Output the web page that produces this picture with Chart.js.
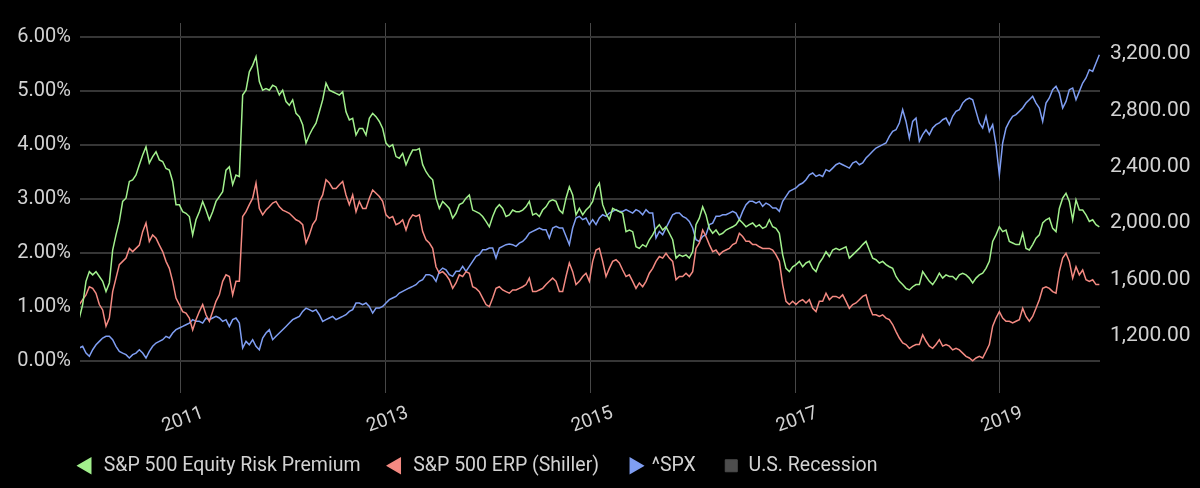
<!DOCTYPE html>
<html>
<head>
<meta charset="utf-8">
<script src="https://cdn.jsdelivr.net/npm/chart.js@4.4.1/dist/chart.umd.min.js"></script>
<style>
  html, body { margin: 0; padding: 0; background: #000; }
  #wrap { width: 1200px; height: 488px; }
</style>
</head>
<body>
<div id="wrap"><canvas id="chart" width="1200" height="488"></canvas></div>
<script>
// sampling grid: one reading roughly every 12 days, Jan 2010 -> Dec 2019
const startYear = 2010.0072;
const stepYears = 0.03256;

const yearTicks = [2011, 2013, 2015, 2017, 2019];
const pctTicks = [0, 1, 2, 3, 4, 5, 6];
const spxTicks = [1200, 1600, 2000, 2400, 2800, 3200];

// S&P 500 Equity Risk Premium (%)
const erp = [
  0.79,1.04,1.47,1.65,1.59,1.65,1.56,1.47,1.28,1.44,
  2.05,2.33,2.58,2.95,3.01,3.32,3.35,3.44,3.63,3.81,
  3.96,3.66,3.78,3.87,3.72,3.69,3.56,3.53,3.32,2.89,
  2.89,2.76,2.73,2.67,2.33,2.61,2.76,2.95,2.79,2.61,
  2.76,2.95,3.04,3.13,3.53,3.59,3.26,3.44,3.41,4.92,
  5.01,5.35,5.47,5.63,5.17,5.01,5.04,5.01,5.10,5.07,
  4.92,5.01,4.80,4.73,4.83,4.58,4.52,4.37,4.03,4.18,
  4.30,4.40,4.61,4.83,5.14,5.01,4.98,
  4.95,4.92,4.98,4.61,4.46,4.49,4.18,4.30,4.30,4.18,
  4.49,4.58,4.52,4.43,4.30,4.03,3.96,4.00,3.78,3.75,
  3.84,3.63,3.78,3.90,3.90,3.93,3.63,3.50,3.41,3.35,
  3.01,2.82,2.95,2.89,2.82,2.64,2.73,2.89,2.92,3.01,
  3.07,2.79,2.76,2.73,2.67,2.58,2.48,2.67,2.82,2.89,
  2.82,2.67,2.70,2.79,2.76,2.76,2.79,2.85,2.95,2.70,
  2.73,2.67,2.79,2.85,2.95,2.98,2.95,2.79,2.73,3.01,
  3.22,3.07,2.70,2.82,2.70,
  2.79,2.85,2.95,3.19,3.29,2.89,2.73,2.61,2.82,2.79,
  2.76,2.73,2.39,2.42,2.39,2.11,2.08,2.15,2.11,2.24,
  2.33,2.45,2.52,2.42,2.48,2.36,2.24,1.90,1.96,1.93,
  1.96,1.90,2.02,2.52,2.64,2.85,2.70,2.45,2.36,2.42,
  2.33,2.36,2.42,2.45,2.48,2.52,2.61,2.55,2.48,2.52,
  2.55,2.48,2.52,2.45,2.48,2.61,2.48,2.45,2.36,1.96,
  1.71,1.65,1.74,1.78,1.84,1.74,1.81,1.84,1.71,1.65,
  1.81,1.90,2.02,1.93,2.05,2.08,2.05,
  2.08,2.11,1.90,1.96,2.02,2.08,2.15,2.21,2.05,1.90,
  1.87,1.81,1.84,1.78,1.74,1.71,1.56,1.47,1.41,1.34,
  1.31,1.37,1.41,1.41,1.65,1.56,1.47,1.41,1.50,1.62,
  1.53,1.59,1.56,1.56,1.50,1.59,1.62,1.59,1.53,1.44,
  1.53,1.59,1.62,1.71,1.84,2.21,2.33,2.48,2.39,2.42,
  2.21,2.18,2.15,2.15,2.36,2.08,2.05,2.15,2.27,2.33,
  2.55,2.61,2.64,2.45,2.39,2.82,3.01,3.10,2.95,2.61,
  2.98,2.79,2.79,2.70,2.58,2.61,2.52,2.48
];

// S&P 500 ERP (Shiller) (%)
const erpShiller = [
  1.04,1.13,1.22,1.37,1.34,1.25,1.04,0.94,0.64,0.79,
  1.28,1.53,1.78,1.84,1.90,2.08,2.02,2.08,2.14,2.39,
  2.55,2.21,2.33,2.27,2.14,2.02,1.84,1.71,1.47,1.16,
  1.04,0.91,0.88,0.79,0.57,0.76,0.91,1.04,0.85,0.73,
  0.91,1.10,1.22,1.47,1.59,1.56,1.22,1.47,1.47,2.67,
  2.76,2.89,3.01,3.29,2.82,2.70,2.79,2.85,2.92,2.95,
  2.85,2.79,2.76,2.73,2.67,2.61,2.58,2.52,2.18,2.33,
  2.52,2.61,2.95,3.07,3.35,3.29,3.19,
  3.19,3.26,3.32,3.07,2.89,3.07,2.76,2.95,2.82,2.82,
  3.01,3.16,3.10,3.04,2.95,2.70,2.64,2.67,2.52,2.55,
  2.61,2.42,2.61,2.70,2.67,2.70,2.39,2.24,2.18,2.08,
  1.74,1.62,1.65,1.59,1.50,1.34,1.44,1.59,1.56,1.65,
  1.62,1.37,1.34,1.28,1.16,1.04,1.00,1.16,1.34,1.37,
  1.31,1.28,1.25,1.31,1.31,1.34,1.37,1.41,1.53,1.28,
  1.28,1.31,1.34,1.41,1.47,1.53,1.47,1.28,1.28,1.56,
  1.81,1.65,1.41,1.47,1.56,
  1.62,1.47,1.84,2.05,2.08,1.84,1.56,1.71,1.84,1.87,
  1.81,1.68,1.56,1.59,1.47,1.34,1.44,1.37,1.47,1.62,
  1.71,1.84,1.93,1.90,1.99,1.90,1.84,1.50,1.56,1.56,
  1.62,1.56,1.65,2.08,2.18,2.42,2.30,2.15,2.02,2.05,
  1.96,2.02,2.05,2.08,2.15,2.18,2.36,2.30,2.21,2.21,
  2.15,2.15,2.11,2.08,2.08,2.08,2.05,1.96,1.84,1.41,
  1.10,1.04,1.10,1.04,1.10,1.13,1.07,1.13,0.97,0.91,
  1.10,1.10,1.25,1.13,1.19,1.19,1.16,
  1.22,1.10,0.97,1.04,1.07,1.13,1.19,1.22,1.00,0.85,
  0.85,0.82,0.85,0.79,0.76,0.67,0.54,0.42,0.33,0.30,
  0.23,0.27,0.30,0.30,0.48,0.36,0.27,0.23,0.30,0.39,
  0.27,0.30,0.27,0.20,0.23,0.20,0.14,0.08,0.05,0.00,
  0.05,0.08,0.05,0.17,0.30,0.64,0.79,0.91,0.79,0.73,
  0.73,0.70,0.73,0.76,0.97,0.82,0.73,0.82,0.97,1.13,
  1.34,1.37,1.34,1.28,1.25,1.65,1.90,1.99,1.84,1.53,
  1.74,1.59,1.68,1.50,1.47,1.50,1.41,1.41
];

// ^SPX close
const spx = [
  1115,1127,1079,1056,1103,1138,1162,1186,1198,1198,
  1174,1127,1091,1079,1068,1044,1068,1079,1103,1079,
  1044,1091,1127,1150,1162,1174,1198,1186,1221,1245,
  1257,1268,1280,1292,1316,1304,1304,1292,1328,1316,
  1328,1339,1328,1304,1316,1268,1316,1328,1292,1115,
  1162,1138,1174,1127,1103,1186,1221,1245,1174,1198,
  1221,1245,1268,1292,1316,1328,1339,1375,1398,1387,
  1375,1387,1351,1304,1316,1328,1339,
  1316,1328,1339,1351,1375,1387,1434,1434,1422,1434,
  1410,1363,1398,1398,1410,1434,1458,1470,1481,1505,
  1517,1529,1541,1552,1564,1588,1599,1635,1635,1623,
  1588,1659,1682,1670,1635,1623,1659,1659,1694,1659,
  1694,1729,1765,1777,1812,1812,1824,1824,1753,1824,
  1836,1848,1852,1848,1836,1859,1871,1895,1930,1942,
  1954,1966,1954,1954,1895,1966,1978,1966,1966,1907,
  1848,1966,2037,2049,2025,
  2037,1990,2025,1990,2037,2060,2049,2072,2084,2096,
  2084,2084,2096,2084,2072,2096,2084,2060,2096,2072,
  2072,1895,1942,1919,1966,2013,2060,2072,2072,2049,
  2037,2013,1966,1883,1871,1907,1919,1990,2001,2049,
  2049,2060,2060,2072,2084,2072,2025,2084,2131,2155,
  2155,2143,2155,2120,2143,2131,2108,2108,2084,2155,
  2190,2226,2238,2250,2273,2285,2309,2344,2356,2332,
  2344,2332,2380,2368,2391,2415,2427,
  2415,2403,2391,2427,2439,2415,2427,2462,2486,2510,
  2533,2545,2557,2569,2616,2651,2663,2711,2805,2722,
  2604,2722,2746,2581,2628,2663,2628,2675,2699,2711,
  2734,2746,2699,2758,2793,2805,2852,2876,2888,2876,
  2793,2711,2675,2758,2651,2699,2557,2344,2569,2675,
  2722,2758,2770,2793,2817,2852,2876,2900,2852,2817,
  2722,2852,2888,2947,2971,2923,2817,2864,2947,2959,
  2876,2935,2994,3030,3089,3077,3136,3195
];

const dates = spx.map((_, i) => startYear + i * stepYears);
const toPoints = (values) => values.map((v, i) => ({ x: dates[i], y: v }));

const GREEN = '#a2f08d';
const RED = '#f48a82';
const BLUE = '#7f9ef2';
const GREY = '#4d4d4d';
const TEXT = '#d2d2d2';
const FONT = 'Roboto';

const lineSet = (label, values, color, axis, rotation) => ({
  label,
  data: toPoints(values),
  yAxisID: axis,
  borderColor: color,
  backgroundColor: color,
  borderWidth: 1.5,
  pointRadius: 0,
  pointStyle: 'triangle',
  pointRotation: rotation,
  tension: 0,
});

// the legend starts under the plot, not at the canvas edge
const legendPlacement = {
  id: 'legendPlacement',
  afterLayout(chart) {
    chart.legend.left = 51;
    chart.legend.top = 428;
  },
};

new Chart(document.getElementById('chart'), {
  type: 'line',
  data: {
    datasets: [
      lineSet('S&P 500 Equity Risk Premium', erp, GREEN, 'yPct', -90),
      lineSet('S&P 500 ERP (Shiller)', erpShiller, RED, 'yPct', -90),
      lineSet('^SPX', spx, BLUE, 'ySpx', 90),
      {
        label: 'U.S. Recession',
        data: [],
        yAxisID: 'yPct',
        borderColor: GREY,
        backgroundColor: GREY,
        pointStyle: 'rect',
        pointRadius: 0,
      },
    ],
  },
  plugins: [legendPlacement],
  options: {
    responsive: false,
    animation: false,
    events: [],
    layout: { padding: { left: 0, right: 0, top: 23, bottom: 0 } },
    plugins: {
      tooltip: { enabled: false },
      legend: {
        position: 'bottom',
        align: 'start',
        maxHeight: 40,
        labels: {
          usePointStyle: true,
          boxWidth: 15,
          boxHeight: 12,
          padding: 28,
          color: TEXT,
          font: { family: FONT, size: 19.5 },
        },
      },
    },
    scales: {
      x: {
        type: 'linear',
        min: 2010.0137,
        max: 2019.977,
        afterBuildTicks: (s) => { s.ticks = yearTicks.map((v) => ({ value: v })); },
        afterFit: (s) => { s.height = 55; },
        ticks: {
          color: TEXT,
          font: { family: FONT, size: 19 },
          minRotation: 20,
          maxRotation: 20,
          labelOffset: 22,
          padding: 9,
          callback: (v) => String(v),
        },
        grid: { color: '#474747', lineWidth: 1, drawTicks: false },
        border: { display: false },
      },
      yPct: {
        position: 'left',
        min: -0.598,
        max: 6.254,
        afterBuildTicks: (s) => { s.ticks = pctTicks.map((v) => ({ value: v })); },
        afterFit: (s) => { s.width = 80; },
        ticks: {
          color: TEXT,
          font: { family: FONT, size: 20 },
          padding: 9,
          callback: (v) => `${Number(v).toFixed(2)}%`,
        },
        grid: { color: '#363636', lineWidth: 2, drawTicks: false },
        border: { display: false },
      },
      ySpx: {
        position: 'right',
        min: 796,
        max: 3420,
        afterBuildTicks: (s) => { s.ticks = spxTicks.map((v) => ({ value: v })); },
        afterFit: (s) => { s.width = 100; },
        ticks: {
          color: TEXT,
          font: { family: FONT, size: 21 },
          padding: 10,
          callback: (v) => Number(v).toLocaleString('en-US', { minimumFractionDigits: 2, maximumFractionDigits: 2 }),
        },
        grid: { drawOnChartArea: false, drawTicks: false },
        border: { display: false },
      },
    },
  },
});
</script>
</body>
</html>
